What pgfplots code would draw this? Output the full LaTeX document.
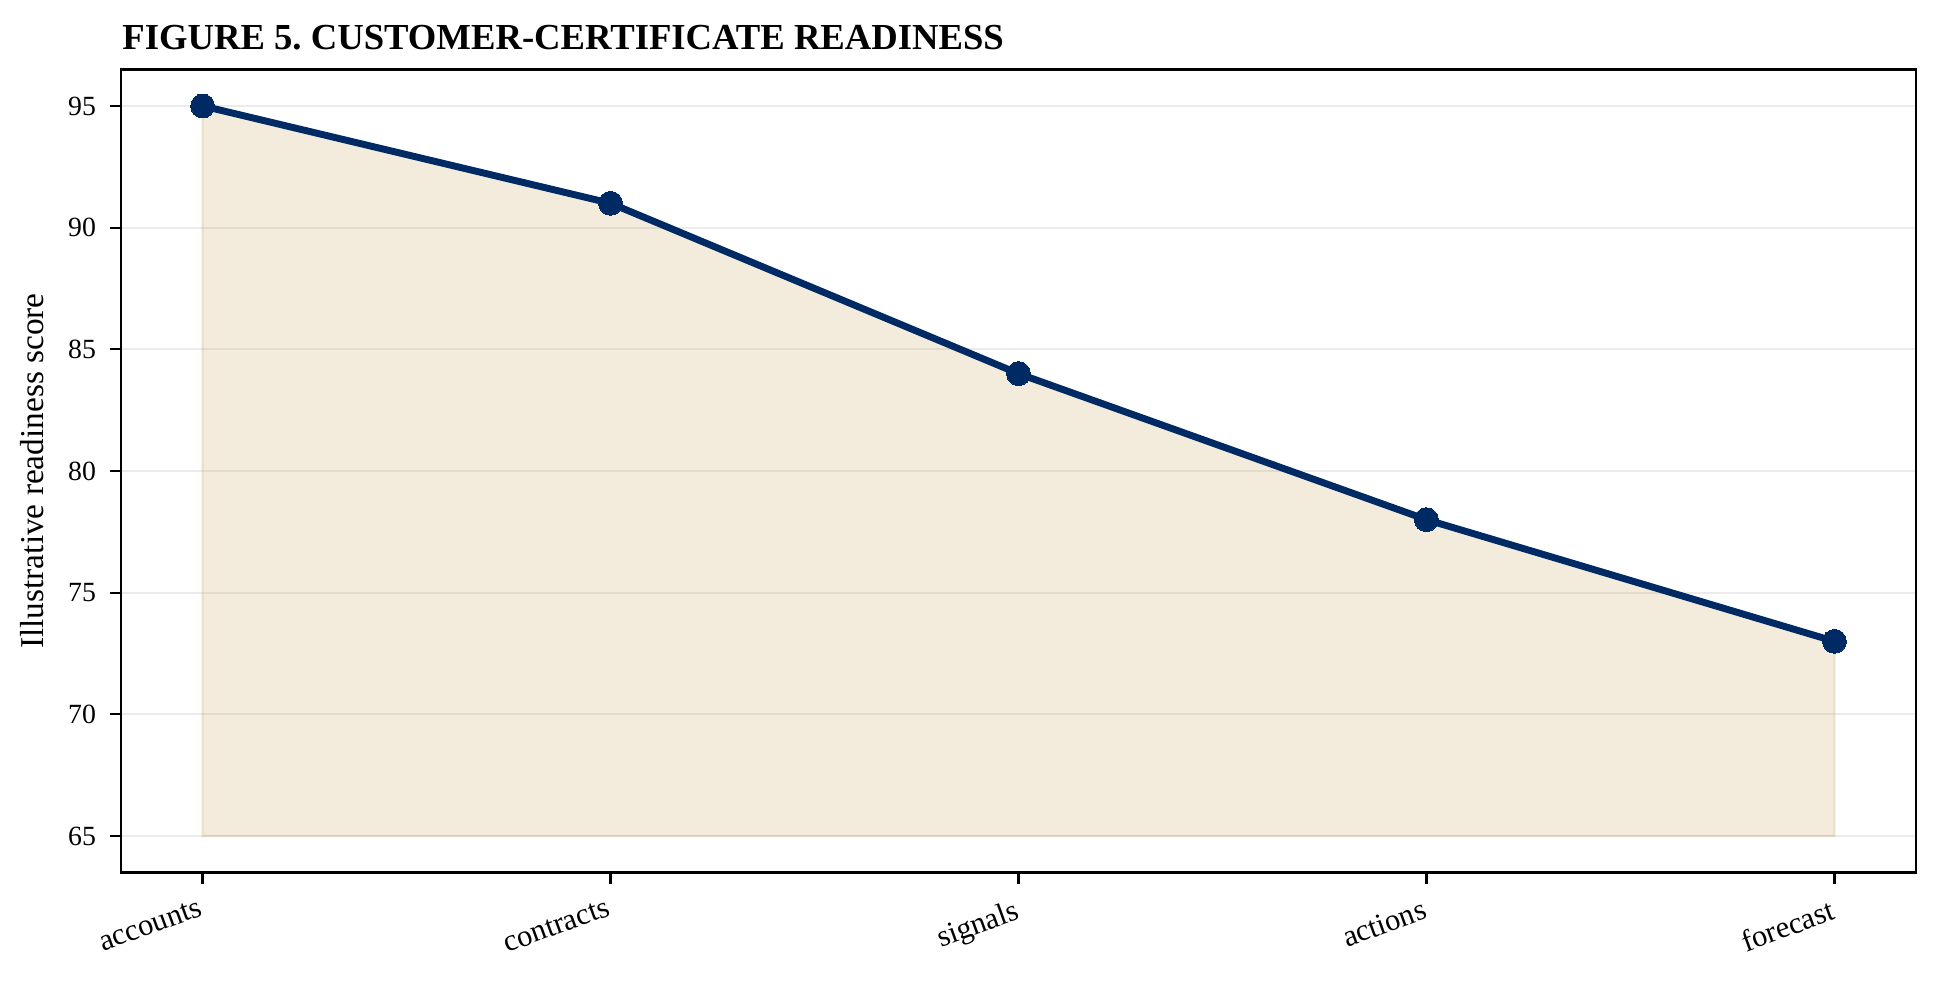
\documentclass[border=0pt]{standalone}
\usepackage{pgfplots}
\pgfplotsset{compat=1.18}
\usepackage{fontspec}
\setmainfont{Liberation Serif}
\frenchspacing

\definecolor{navy}{RGB}{0,42,100}
\definecolor{sand}{RGB}{201,164,95}
\definecolor{gridgray}{RGB}{235,235,235}

\begin{document}
\begin{tikzpicture}
% 1 px of the 1940x983 reference = 0.36pt
\useasboundingbox (-43.56pt,-39.78pt) rectangle (654.84pt,314.1pt);
\begin{axis}[
    at={(0,0)}, anchor=south west,
    scale only axis,
    width=646.2pt, height=289.1pt,
    xmin=-0.2, xmax=4.2,
    ymin=63.5, ymax=96.5,
    xtick={0,1,2,3,4},
    xticklabels={accounts,contracts,signals,actions,forecast},
    ytick={65,70,75,80,85,90,95},
    tick align=outside,
    major tick length=4pt,
    tick style={black, line width=0.8pt},
    xtick pos=bottom, ytick pos=left,
    axis line style={black, line width=0.8pt},
    ymajorgrids=true,
    grid style={gridgray, line width=0.7pt},
    yticklabel style={font=\fontsize{10}{12}\selectfont, xshift=-1.5pt},
    /pgf/number format/assume math mode=true,
    xticklabel style={font=\fontsize{11}{13}\selectfont, rotate=20, anchor=north east, yshift=-1pt},
    ylabel={Illustrative readiness score},
    ylabel style={at={(axis description cs:-0.0495,0.5)}, anchor=center, font=\fontsize{12}{14}\selectfont},
]
\addplot[fill=sand, fill opacity=0.22, draw=sand, draw opacity=0.25, line width=0.8pt]
    coordinates {(0,65) (0,95) (1,91) (2,84) (3,78) (4,73) (4,65)} -- cycle;
\addplot[navy, line width=2.5pt, mark=*, mark size=4.3pt, mark options={fill=navy, draw=navy, line width=0pt}]
    coordinates {(0,95) (1,91) (2,84) (3,78) (4,73)};
\end{axis}
\node[anchor=base west, inner sep=0pt, font=\fontsize{13.2}{15}\selectfont\bfseries] at (0.3pt,296.4pt) {FIGURE 5. CUSTOMER-CERTIFICATE READINESS};
\end{tikzpicture}
\end{document}
